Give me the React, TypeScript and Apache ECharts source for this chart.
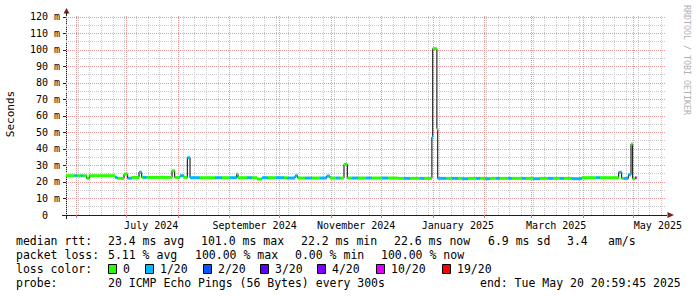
import React, { useEffect, useRef } from "react";
import * as echarts from "echarts";

// ---- time window ----
const START = "2024-05-25T20:59:45";
const END = "2025-05-20T20:59:45";

// ---- median RTT samples (each value holds until the next sample) ----
const sampleTimes = [
  "2024-05-25T21:00", "2024-05-31T02:00", "2024-06-01T16:00", "2024-06-03T16:00", "2024-06-04T21:00",
  "2024-06-07T07:00", "2024-06-08T21:00", "2024-06-24T07:00", "2024-06-25T16:00", "2024-06-29T16:00",
  "2024-07-01T21:00", "2024-07-04T07:00", "2024-07-08T16:00", "2024-07-10T07:00", "2024-07-11T02:00",
  "2024-07-13T07:00", "2024-07-28T12:00", "2024-07-30T02:00", "2024-08-02T07:00", "2024-08-04T16:00",
  "2024-08-06T16:00", "2024-08-08T07:00", "2024-08-14T07:00", "2024-08-23T07:00", "2024-08-27T12:00",
  "2024-09-01T07:00", "2024-09-05T07:00", "2024-09-06T02:00", "2024-09-11T12:00", "2024-09-14T12:00",
  "2024-09-17T12:00", "2024-09-20T12:00", "2024-09-24T02:00", "2024-09-28T21:00", "2024-10-03T16:00",
  "2024-10-05T12:00", "2024-10-10T07:00", "2024-10-11T21:00", "2024-10-16T07:00", "2024-10-20T12:00",
  "2024-10-25T07:00", "2024-10-29T07:00", "2024-10-31T07:00", "2024-11-03T21:00", "2024-11-06T07:00",
  "2024-11-08T16:00", "2024-11-10T16:00", "2024-11-13T12:00", "2024-11-17T02:00", "2024-11-21T21:00",
  "2024-11-25T12:00", "2024-12-01T12:00", "2024-12-05T02:00", "2024-12-11T02:00", "2024-12-14T16:00",
  "2024-12-18T07:00", "2024-12-24T07:00", "2024-12-26T16:00", "2024-12-31T10:00", "2024-12-31T22:00",
  "2025-01-03T10:00", "2025-01-03T22:00", "2025-01-09T07:00", "2025-01-12T12:00", "2025-01-16T02:00",
  "2025-01-18T12:00", "2025-01-22T02:00", "2025-01-26T21:00", "2025-01-29T07:00", "2025-02-01T07:00",
  "2025-02-04T07:00", "2025-02-07T21:00", "2025-02-10T07:00", "2025-02-15T02:00", "2025-02-17T12:00",
  "2025-02-23T12:00", "2025-02-25T21:00", "2025-03-02T02:00", "2025-03-06T07:00", "2025-03-11T02:00",
  "2025-03-14T02:00", "2025-03-18T07:00", "2025-03-20T16:00", "2025-03-25T07:00", "2025-03-31T07:00",
  "2025-04-08T21:00", "2025-04-11T07:00", "2025-04-22T12:00", "2025-04-24T07:00", "2025-04-25T16:00",
  "2025-04-28T07:00", "2025-04-29T21:00", "2025-04-30T21:00", "2025-05-02T07:00",
];
const dataEnd = "2025-05-03T07:00";

// median rtt in milliseconds
const medianMs = [
  23.8, 23.8, 23.8, 23.8, 23.8,
  22.2, 23.8, 22.8, 22.2, 24.8,
  22.2, 22.8, 25.9, 22.8, 22.8,
  22.8, 26.8, 22.8, 23.8, 22.8,
  34.7, 22.6, 22.6, 22.6, 22.6,
  22.6, 24.7, 22.6, 22.6, 22.6,
  21.8, 22.6, 22.6, 22.6, 22.6,
  22.4, 23.8, 22.4, 22.4, 22.4,
  22.4, 23.6, 22.4, 22.4, 22.4,
  30.7, 22.4, 22.4, 22.4, 22.4,
  22.4, 22.4, 22.4, 22.2, 22.2,
  22.2, 22.2, 22.2, 47.1, 100.8,
  52.3, 22.2, 22.2, 22.2, 22.2,
  22.0, 22.2, 22.2, 22.2, 22.0,
  22.2, 22.2, 22.2, 22.2, 22.2,
  22.2, 22.2, 22.0, 22.2, 22.2,
  22.2, 22.2, 22.2, 22.0, 22.6,
  22.6, 22.6, 25.9, 22.2, 22.2,
  24.4, 43.0, 22.0, 22.6,
];

// loss level index into lossColors
const lossLevel = [
  0, 1, 0, 1, 0,
  0, 0, 1, 0, 0,
  1, 0, 1, 0, 1,
  0, 0, 0, 1, 0,
  1, 1, 0, 1, 0,
  1, 0, 0, 1, 0,
  0, 1, 0, 1, 0,
  1, 1, 0, 1, 0,
  1, 1, 0, 1, 0,
  0, 0, 1, 0, 1,
  0, 1, 0, 0, 1,
  0, 1, 0, 1, 0,
  0, 1, 0, 1, 0,
  1, 0, 1, 0, 1,
  0, 1, 0, 1, 0,
  1, 0, 1, 0, 1,
  0, 1, 0, 1, 0,
  1, 0, 1, 0, 1,
  1, 0, 0, 5,
];

// ---- axes / grid ----
const monthStarts = [
  "2024-06-01", "2024-07-01", "2024-08-01", "2024-09-01", "2024-10-01", "2024-11-01",
  "2024-12-01", "2025-01-01", "2025-02-01", "2025-03-01", "2025-04-01", "2025-05-01",
];
const xLabelMonths = ["2024-07-01", "2024-09-01", "2024-11-01", "2025-01-01", "2025-03-01", "2025-05-01"];
const xLabelTexts = ["July 2024", "September 2024", "November 2024", "January 2025", "March 2025", "May 2025"];
const firstSunday = "2024-05-26";
const yMax = 121.2;
const yMajorStep = 10;
const yMinorStep = 5;

// ---- legend ----
const lossColors = ["#26ff00", "#00b8ff", "#0059ff", "#5e00ff", "#7e00ff", "#dd00ff", "#ff0000"];
const lossLabels = ["0", "1/20", "2/20", "3/20", "4/20", "10/20", "19/20"];
const rttStats = ["23.4 ms avg", "101.0 ms max", "22.2 ms min", "22.6 ms now", "6.9 ms sd", "3.4", "am/s"];
const lossStats = ["5.11 % avg", "100.00 % max", "0.00 % min", "100.00 % now"];
const rowHeads = ["median rtt:", "packet loss:", "loss color:", "probe:"];
const probeText = "20 ICMP Echo Pings (56 Bytes) every 300s";
const endText = "end: Tue May 20 20:59:45 2025";
const watermark = "RRDTOOL / TOBI OETIKER";
const yAxisName = "Seconds";

const ts = (s: string) => Date.parse(s.includes("T") ? s + "Z" : s + "T00:00Z");
const DAY = 86400000;
const MONO = '"DejaVu Sans Mono", monospace';

export default function App() {
  const ref = useRef<HTMLDivElement>(null);
  useEffect(() => {
    if (!ref.current) return;
    const chart = echarts.init(ref.current, null, { renderer: "svg" });

    const tMin = ts(START);
    const tMax = ts(END);

    const stepData: [number, number][] = sampleTimes.map((s, i) => [ts(s), medianMs[i]]);
    stepData.push([ts(dataEnd), medianMs[medianMs.length - 1]]);

    const segData = sampleTimes.map((s, i) => [
      ts(s),
      i + 1 < sampleTimes.length ? ts(sampleTimes[i + 1]) : ts(dataEnd),
      medianMs[i],
      lossLevel[i],
    ]);

    const sundays: number[] = [];
    for (let t = ts(firstSunday); t < tMax; t += 7 * DAY) sundays.push(t);
    const monthTs = monthStarts.map(ts);
    const labelPos = xLabelMonths.map((m) => ts(m) + 15 * DAY);

    const hMajor: number[] = [];
    for (let v = yMajorStep; v <= yMax; v += yMajorStep) hMajor.push(v);
    const hMinor: number[] = [];
    for (let v = yMinorStep; v <= yMax; v += yMajorStep) hMinor.push(v);

    const gridMinor = "#c9c9c9";
    const gridMajor = "#e89a9a";

    const mk = (data: any[], color: string) => ({
      silent: true,
      z: 1,
      symbol: ["none", "none"],
      label: { show: false },
      emphasis: { disabled: true },
      animation: false,
      lineStyle: { color, width: 1, type: [1, 1] },
      data,
    });

    const headY = [241, 255, 269, 283];
    const txt = (text: string, x: number, y: number) => ({
      type: "text",
      x,
      y,
      style: { text, fill: "#000", font: `11.5px ${MONO}`, verticalAlign: "middle" },
    });
    const graphics: any[] = [];
    rowHeads.forEach((h, i) => graphics.push(txt(h, 16, headY[i])));
    const rttX = [108, 201, 301, 394, 488, 567, 608];
    rttStats.forEach((s, i) => graphics.push(txt(s, rttX[i], headY[0])));
    const lossX = [108, 195, 295, 381];
    lossStats.forEach((s, i) => graphics.push(txt(s, lossX[i], headY[1])));
    const boxX = [108, 145, 203, 260, 317, 376, 442];
    lossLabels.forEach((l, i) => {
      graphics.push({
        type: "rect",
        shape: { x: boxX[i] + 0.5, y: 264.5, width: 8, height: 9 },
        style: { fill: lossColors[i], stroke: "#000", lineWidth: 1 },
      });
      graphics.push(txt(l, boxX[i] + 15, headY[2]));
    });
    graphics.push(txt(probeText, 108, headY[3]));
    graphics.push(txt(endText, 480, headY[3]));
    graphics.push({
      type: "text",
      x: 687,
      y: 60,
      rotation: -Math.PI / 2,
      style: {
        text: watermark,
        fill: "#b0b0b0",
        font: `8.3px ${MONO}`,
        align: "center",
        verticalAlign: "middle",
      },
    });
    graphics.push({
      type: "text",
      x: 10.5,
      y: 114,
      rotation: Math.PI / 2,
      style: {
        text: yAxisName,
        fill: "#000",
        font: `11px ${MONO}`,
        align: "center",
        verticalAlign: "middle",
      },
    });
    // axis arrows and axis overhangs
    graphics.push({
      type: "polygon",
      shape: { points: [[63.5, 13.5], [69.5, 13.5], [66.5, 8]] },
      style: { fill: "#801f1f" },
    });
    graphics.push({
      type: "polygon",
      shape: { points: [[667.5, 212], [667.5, 218], [674, 215]] },
      style: { fill: "#801f1f" },
    });
    graphics.push({
      type: "line",
      shape: { x1: 62, y1: 215.5, x2: 667, y2: 215.5 },
      style: { stroke: "#1f1f1f", lineWidth: 1 },
    });
    graphics.push({
      type: "line",
      shape: { x1: 66.5, y1: 12, x2: 66.5, y2: 219 },
      style: { stroke: "#1f1f1f", lineWidth: 1 },
    });

    chart.setOption({
      animation: false,
      backgroundColor: "#ffffff",
      grid: { left: 66, top: 15, width: 600, height: 200 },
      xAxis: {
        type: "value",
        min: tMin,
        max: tMax,
        splitLine: { show: false },
        axisLine: { lineStyle: { color: "#1f1f1f", width: 1 } },
        axisTick: {
          show: true,
          customValues: monthTs,
          length: 3,
          lineStyle: { color: "#d07a7a" },
        },
        axisLabel: {
          customValues: labelPos,
          margin: 5,
          color: "#000",
          fontFamily: MONO,
          fontSize: 10,
          formatter: (v: number) => {
            const idx = labelPos.findIndex((p) => Math.abs(p - v) < 60000);
            return idx >= 0 ? xLabelTexts[idx] : "";
          },
        },
      },
      yAxis: {
        type: "value",
        min: 0,
        max: yMax,
        interval: yMajorStep,
        splitLine: { show: false },
        axisLine: { show: true, lineStyle: { color: "#1f1f1f", width: 1 } },
        axisTick: { show: true, length: 3, lineStyle: { color: "#1f1f1f" } },
        axisLabel: {
          margin: 6,
          color: "#000",
          fontFamily: MONO,
          fontSize: 10,
          showMaxLabel: false,
          formatter: (v: number) => (v === 0 ? "0\u00a0\u00a0" : `${v} m`),
        },
      },
      series: [
        {
          type: "line",
          data: [],
          z: 1,
          markLine: mk(
            [...sundays.map((t) => ({ xAxis: t })), ...hMinor.map((v) => ({ yAxis: v }))],
            gridMinor
          ),
        },
        {
          type: "line",
          data: [],
          z: 1,
          markLine: mk(
            [...monthTs.map((t) => ({ xAxis: t })), ...hMajor.map((v) => ({ yAxis: v }))],
            gridMajor
          ),
        },
        {
          type: "line",
          step: "end",
          data: stepData,
          showSymbol: false,
          silent: true,
          z: 6,
          lineStyle: { color: "#000", width: 1 },
        },
        {
          type: "custom",
          z: 7,
          silent: true,
          encode: { x: [0, 1], y: 2 },
          data: segData,
          renderItem: (_p: any, api: any) => {
            const t0 = api.value(0);
            const t1 = api.value(1);
            const v = api.value(2);
            const li = api.value(3);
            const a = api.coord([t0, v]);
            const b = api.coord([t1, v]);
            return {
              type: "rect",
              shape: { x: a[0], y: a[1] - 1.5, width: Math.max(b[0] - a[0], 1), height: 3 },
              style: { fill: lossColors[li] },
            };
          },
        },
      ],
      graphic: graphics,
    });

    return () => chart.dispose();
  }, []);

  return (
    <div
      ref={ref}
      style={{ position: "fixed", left: 0, top: 0, width: 697, height: 297, background: "#fff" }}
    />
  );
}
